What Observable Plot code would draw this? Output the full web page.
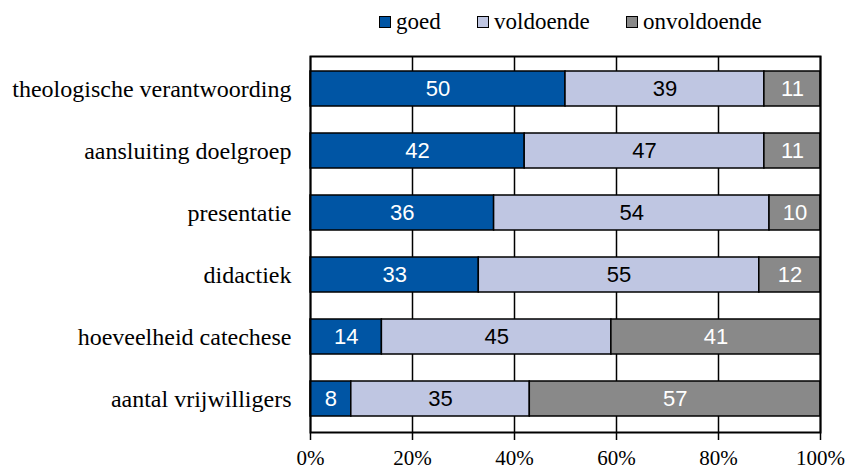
<!DOCTYPE html>
<html><head><meta charset="utf-8">
<script src="https://cdn.jsdelivr.net/npm/d3@7"></script>
<script src="https://cdn.jsdelivr.net/npm/@observablehq/plot@0.6"></script>
<style>
body{margin:0;background:#fff;}
#legend{height:44px;position:relative;font-family:'Liberation Serif','Times New Roman',serif;font-size:23px;line-height:26px;color:#000;}
#legend .item{position:absolute;top:9px;display:flex;align-items:center;}
#legend .sw{width:10px;height:10px;border:1.5px solid #000;margin-right:5px;box-sizing:content-box;}
</style></head>
<body>
<div id="legend"></div>
<div id="chart"></div>
<script>
const categories = ["theologische verantwoording","aansluiting doelgroep","presentatie","didactiek","hoeveelheid catechese","aantal vrijwilligers"];
const series = ["goed","voldoende","onvoldoende"];
const goed = [50,42,36,33,14,8];
const voldoende = [39,47,54,55,45,35];
const onvoldoende = [11,11,10,12,41,57];
const colors = ["#0055A4","#BFC6E2","#898989"];
const textColors = ["#fff","#000","#fff"];
const xTicks = [0,20,40,60,80,100];

const valuesBySeries = [goed, voldoende, onvoldoende];
const data = [];
categories.forEach((c,i)=>series.forEach((s,j)=>data.push({cat:c, series:s, value:valuesBySeries[j][i]})));

// legend
const legend = document.getElementById("legend");
const lx = [379, 477, 626];
series.forEach((s,j)=>{
  const it = document.createElement("div");
  it.className="item"; it.style.left = lx[j]+"px";
  it.innerHTML = `<span class="sw" style="background:${colors[j]}"></span><span>${s}</span>`;
  legend.appendChild(it);
});

const serif = "'Liberation Serif', 'Times New Roman', serif";
const stackOpts = {x:"value", y:"cat", z:"series", order: series};
const textMarks = series.map((s,j)=>Plot.text(data, Plot.stackX({
  ...stackOpts,
  text: d=> d.series===s ? String(d.value) : null, fill: textColors[j],
  fontFamily:"'Liberation Sans', Arial, sans-serif", fontSize: 22
})));

const plot = Plot.plot({
  width: 850, height: 429,
  marginTop: 12, marginBottom: 41, marginLeft: 310, marginRight: 30,
  style: {fontFamily: serif, fontSize:"20px", color:"#000", background:"#fff"},
  x: {domain:[0,100], ticks: xTicks, tickFormat: d=>d+"%", label:null},
  y: {domain: categories, paddingInner: 0.428, paddingOuter: 0.2, label:null},
  color: {domain: series, range: colors},
  marks: [
    Plot.ruleX(xTicks, {stroke:"#000", strokeWidth:1.5}),
    Plot.barX(data, Plot.stackX({...stackOpts, fill:"series", stroke:"#000", strokeWidth:1.5})),
    ...textMarks,
    Plot.frame({stroke:"#000", strokeWidth:2}),
    Plot.axisX({ticks: xTicks, tickFormat: d=>d+"%", tickSize: 8, tickPadding: 10, stroke:"#000", strokeWidth:1.5, fontSize: 21, fontFamily: serif, label:null}),
    Plot.axisY({tickSize: 0, tickPadding: 19, fontSize: 24, fontFamily: serif, label:null})
  ]
});
document.getElementById("chart").appendChild(plot);
</script>
</body></html>
